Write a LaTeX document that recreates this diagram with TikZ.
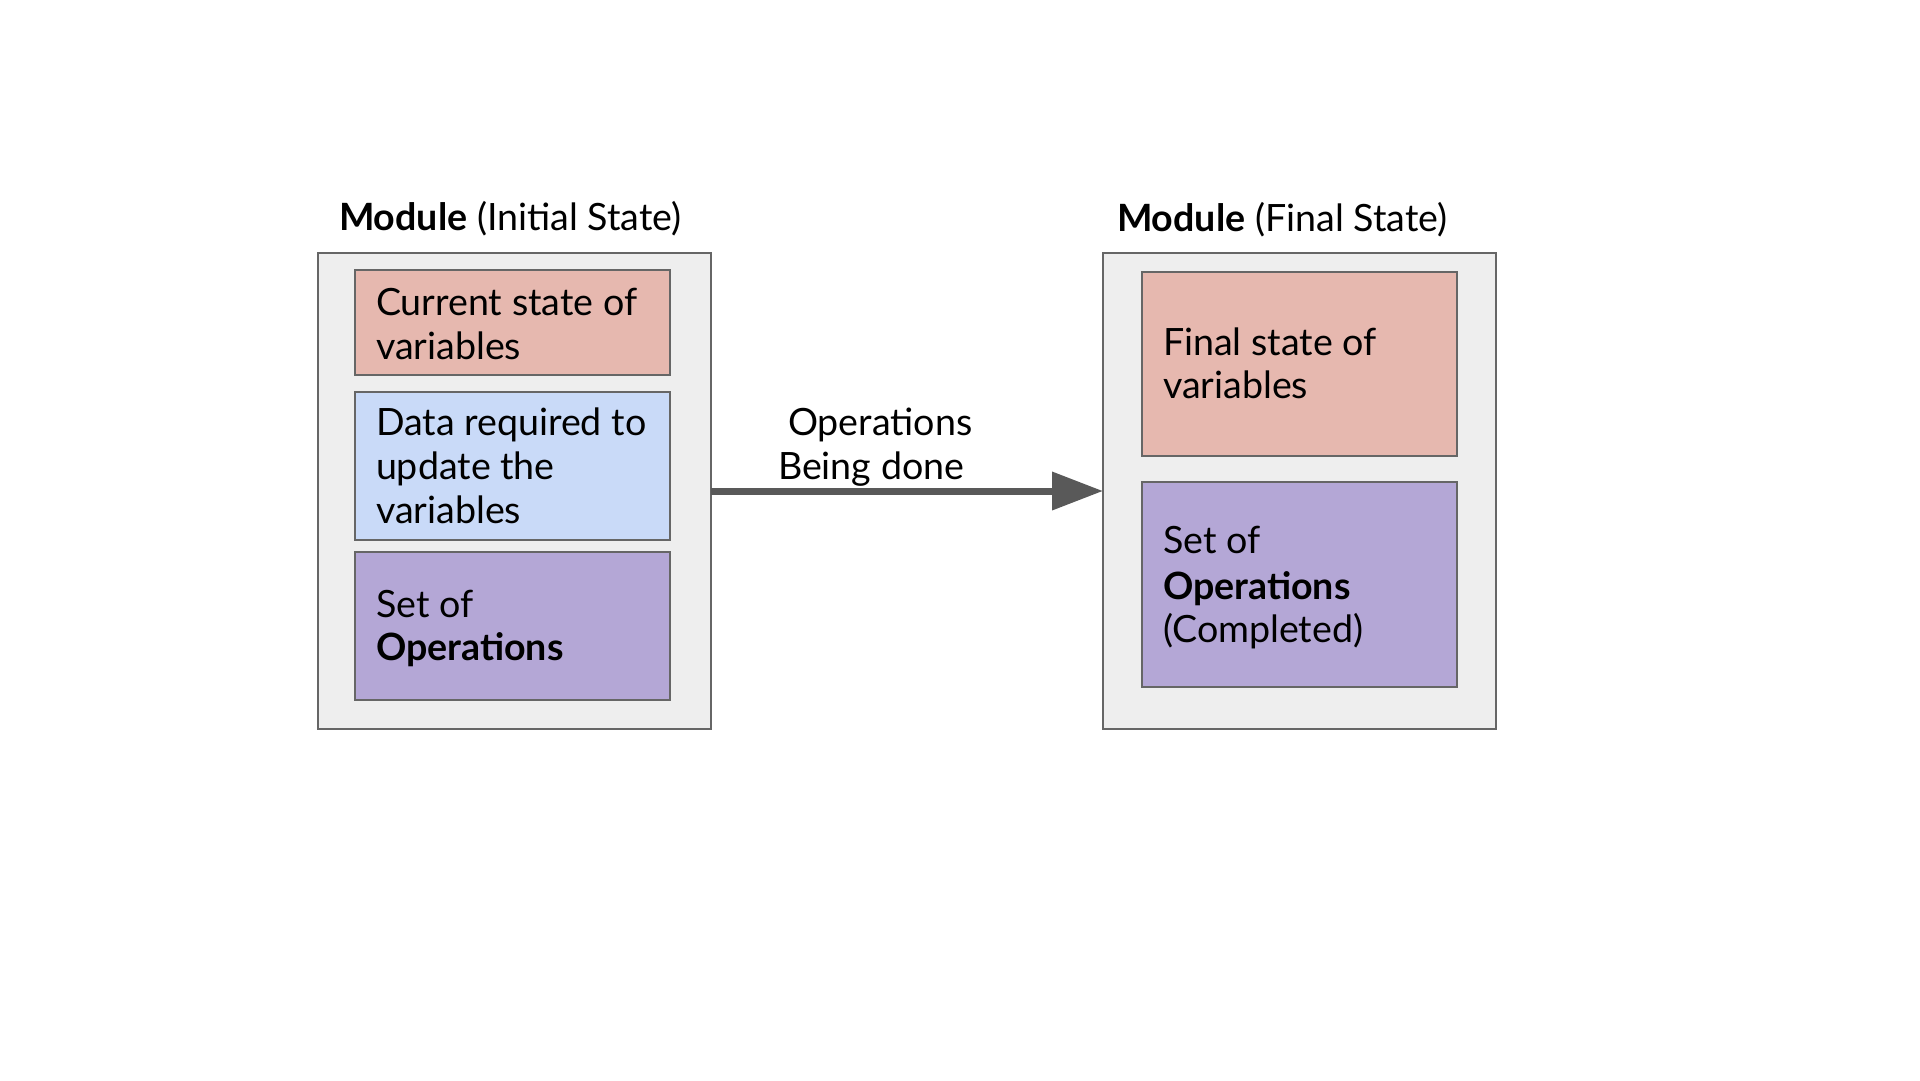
\documentclass[tikz,border=0pt]{standalone}
\usepackage{fontspec}
\setmainfont{Lato}
\usetikzlibrary{arrows.meta}
\definecolor{pinkbox}{HTML}{E6B8AF}
\definecolor{bluebox}{HTML}{C9DAF8}
\definecolor{purplebox}{HTML}{B4A7D6}
\definecolor{outerfill}{HTML}{EEEEEE}
\definecolor{bordergray}{HTML}{666666}
\definecolor{arrowgray}{HTML}{595959}
\tikzset{
  outerbox/.style={draw=bordergray, fill=outerfill, line width=2pt, outer sep=0pt, inner sep=0pt, minimum width=393pt, minimum height=476pt},
  innerbox/.style={draw=bordergray, line width=2pt, outer sep=0pt, inner sep=0pt, minimum width=315pt},
  txt/.style={anchor=base west, inner sep=0pt, outer sep=0pt, font=\fontsize{37.6pt}{44pt}\selectfont},
  ttl/.style={anchor=base west, inner sep=0pt, outer sep=0pt, font=\fontsize{37.6pt}{44pt}\selectfont},
  flow/.style={draw=arrowgray, line width=7pt, -{Triangle[length=51pt,width=37pt]}}
}
\begin{document}
\begin{tikzpicture}[x=1pt,y=-1pt]
\useasboundingbox (0,0) rectangle (1920,1080);
% titles
\node[ttl] (title1) at (339,230) {\textbf{Module} (Initial State)};
\node[ttl] (title2) at (1117,231) {\textbf{Module} (Final State)};
% outer boxes
\node[outerbox] (L) at (514.5,491) {};
\node[outerbox] (R) at (1299.5,491) {};
% left inner boxes
\node[innerbox, fill=pinkbox, minimum height=105pt] (L1) at (512.5,322.5) {};
\node[innerbox, fill=bluebox, minimum height=148pt] (L2) at (512.5,466) {};
\node[innerbox, fill=purplebox, minimum height=147.5pt] (L3) at (512.5,626) {};
% right inner boxes
\node[innerbox, fill=pinkbox, minimum height=184pt] (R1) at (1299.5,364) {};
\node[innerbox, fill=purplebox, minimum height=205pt] (R2) at (1299.5,584.5) {};
% texts left
\node[txt] (L1a) at (376,315) {Current state of};
\node[txt] (L1b) at (376,359) {variables};
\node[txt] (L2a) at (376,435) {Data required to};
\node[txt] (L2b) at (376,479) {update the};
\node[txt] (L2c) at (376,523) {variables};
\node[txt] (L3a) at (376,617.7) {Set of};
\node[txt] (L3b) at (376,660) {\textbf{Operations}};
% texts right
\node[txt] (R1a) at (1163,355) {Final state of};
\node[txt] (R1b) at (1163,398.5) {variables};
\node[txt] (R2a) at (1163,553.3) {Set of};
\node[txt] (R2b) at (1163,599) {\textbf{Operations}};
\node[txt] (R2c) at (1163,642.7) {(Completed)};
% arrow
\draw[flow] (L.east) -- (R.west);
\node[txt] (op1) at (788,435) {Operations};
\node[txt] (op2) at (778,479) {Being done};
\end{tikzpicture}
\end{document}
